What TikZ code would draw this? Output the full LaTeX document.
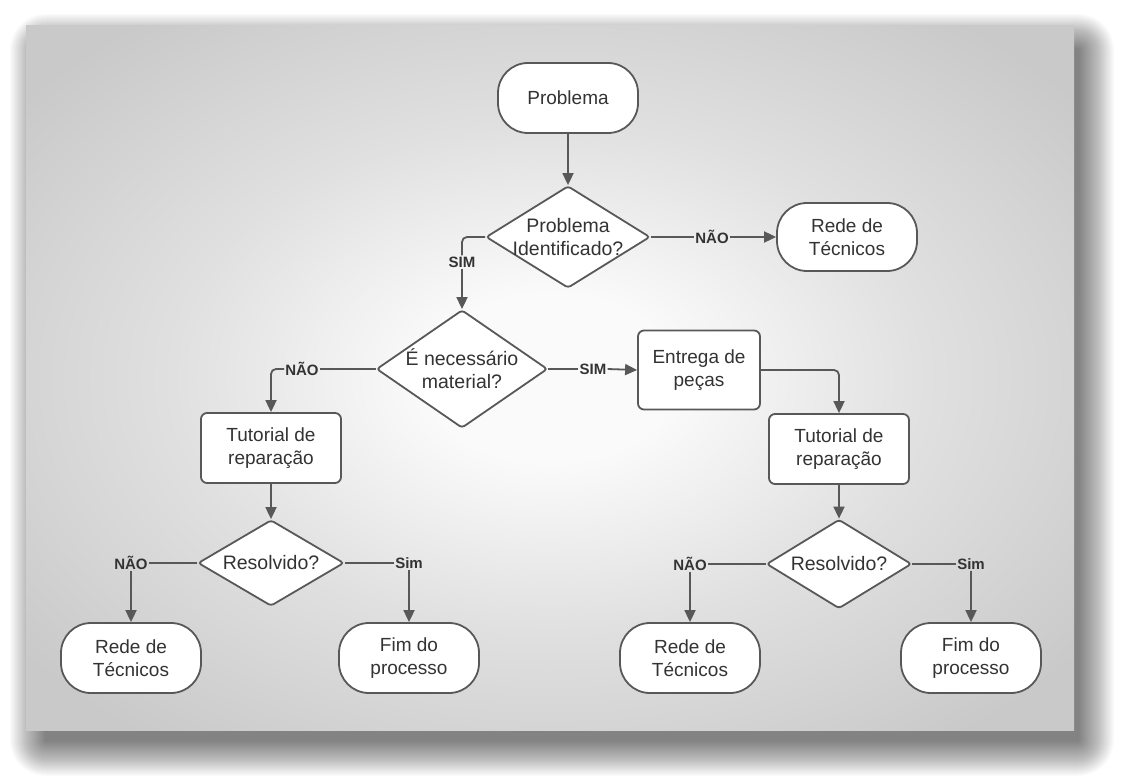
\documentclass[tikz,border=0pt]{standalone}
\usepackage{fontspec}
\setmainfont{Liberation Sans}
\usetikzlibrary{shapes.geometric,arrows.meta}
\definecolor{ln}{HTML}{585858}
\definecolor{tx}{HTML}{333333}
\definecolor{panelgray}{HTML}{C9C9C9}
\definecolor{panelmid}{HTML}{E0E0E0}
\definecolor{panellight}{HTML}{FAFAFA}
\pgfdeclareradialshading{panelshade}{\pgfpoint{0bp}{0bp}}{color(0bp)=(panellight); color(6bp)=(panellight); color(18bp)=(panelmid); color(32bp)=(panelgray); color(50bp)=(panelgray)}
\tikzset{
  boxline/.style={draw=ln, line width=1.8pt, fill=white, text=tx,
    font=\fontsize{19}{23}\selectfont, align=center},
  term/.style={boxline, rounded corners=30pt, minimum width=140pt, minimum height=70pt},
  proc/.style={boxline, rounded corners=6pt, minimum width=140pt, minimum height=70pt},
  dec/.style={diamond, draw=ln, line width=1.8pt, fill=white, inner sep=0pt, rounded corners=3pt},
  dtext/.style={text=tx, font=\fontsize{19.5}{23}\selectfont, align=center, inner sep=0pt},
  lab/.style={text=tx, font=\bfseries\fontsize{15}{18}\selectfont, inner sep=1pt},
  conn/.style={draw=ln, line width=1.8pt},
  arr/.style={conn, -{Triangle[length=12pt,width=11pt]}},
  shadowlayer/.style={fill=black, fill opacity=0.014}
}
\begin{document}
\begin{tikzpicture}[x=1pt,y=-1pt]
\useasboundingbox (0,0) rectangle (1126,783);
\fill[white] (0,0) rectangle (1126,783);
% soft shadow of the panel
\foreach \e in {1,2,...,36}{
  \fill[shadowlayer, rounded corners=\e pt] (46-\e,50-\e) rectangle (1078+\e,740+\e);
}
\shade[shading=panelshade] (26,26) rectangle (1074,730);

% nodes
\node[term] (prob) at (568,98) {Problema};
\node[dec, minimum width=164pt, minimum height=102pt, label={[dtext]center:Problema\\Identificado?}] (d1) at (568,237) {};
\node[term, minimum height=68pt] (rede1) at (847,237) {Rede de\\Técnicos};
\node[dec, minimum width=171pt, minimum height=118pt, label={[dtext]center:É necessário\\material?}] (d2) at (462,369) {};
\node[proc, minimum width=122pt, minimum height=79pt] (ent) at (699,370) {Entrega de\\peças};
\node[proc] (tut1) at (271,448) {Tutorial de\\reparação};
\node[proc] (tut2) at (839,449) {Tutorial de\\reparação};
\node[dec, minimum width=146pt, minimum height=86pt, label={[dtext]center:Resolvido?}] (d3) at (271,563) {};
\node[dec, minimum width=145pt, minimum height=89pt, label={[dtext]center:Resolvido?}] (d4) at (839,564) {};
\node[term] (rede2) at (131,658) {Rede de\\Técnicos};
\node[term] (fim1) at (409,658) {Fim do\\processo};
\node[term] (rede3) at (690,658) {Rede de\\Técnicos};
\node[term] (fim2) at (971,658) {Fim do\\processo};

% labels
\node[lab] (l1) at (712,237) {NÃO};
\node[lab] (l2) at (462,262) {SIM};
\node[lab] (l3) at (302,369) {NÃO};
\node[lab] (l4) at (593,369) {SIM};
\node[lab] (l5) at (131,563) {NÃO};
\node[lab] (l6) at (409,563) {Sim};
\node[lab] (l7) at (690,564) {NÃO};
\node[lab] (l8) at (971,564) {Sim};

% connectors
\draw[arr] (prob.south) -- (d1.north);
\draw[conn] (d1.east) -- (l1.west);
\draw[arr] (l1.east) -- (rede1.west);
\draw[conn, rounded corners=5pt] (d1.west) -| (l2.north);
\draw[arr] (l2.south) -- (d2.north);
\draw[conn] (d2.west) -- (l3.east);
\draw[arr, rounded corners=5pt] (l3.west) -| (tut1.north);
\draw[conn] (d2.east) -- (l4.west);
\draw[arr] (l4.east) -- (ent.west);
\draw[arr, rounded corners=5pt] (ent.east) -| (tut2.north);
\draw[arr] (tut1.south) -- (d3.north);
\draw[arr] (tut2.south) -- (d4.north);
\draw[conn] (d3.west) -- (l5.east);
\draw[arr] (l5.south) -- (rede2.north);
\draw[conn] (d3.east) -- (l6.west);
\draw[arr] (l6.south) -- (fim1.north);
\draw[conn] (d4.west) -- (l7.east);
\draw[arr] (l7.south) -- (rede3.north);
\draw[conn] (d4.east) -- (l8.west);
\draw[arr] (l8.south) -- (fim2.north);
\end{tikzpicture}
\end{document}
